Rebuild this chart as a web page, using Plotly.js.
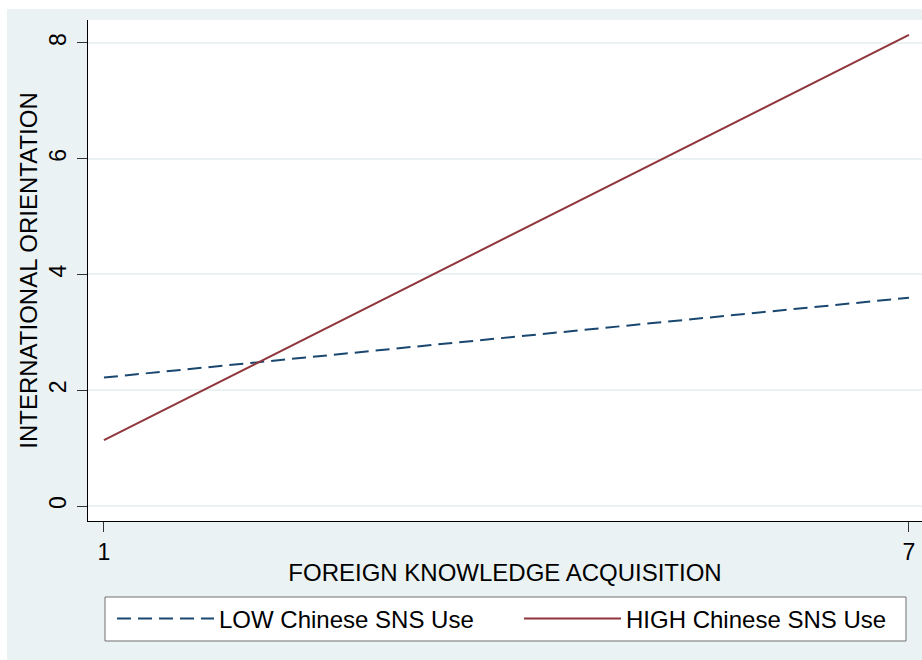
<!DOCTYPE html>
<html>
<head>
<meta charset="utf-8">
<script src="https://cdn.plot.ly/plotly-3.0.1.min.js"></script>
<style>
  html, body { margin: 0; padding: 0; background: #ffffff; }
  #chart { position: absolute; left: 7px; top: 9px; width: 915px; height: 651px; }
</style>
</head>
<body>
<div id="chart"></div>
<script>
// Data
const knowledge = [1, 7];
const lowSNS = [2.22, 3.60];
const highSNS = [1.14, 8.14];
const seriesNames = ['LOW Chinese SNS Use', 'HIGH Chinese SNS Use'];
const xTicks = [1, 7];
const yTicks = [0, 2, 4, 6, 8];

const FONT = 'Liberation Sans, Arial, Helvetica, sans-serif';

const traces = [
  {
    x: knowledge, y: lowSNS, name: seriesNames[0], type: 'scatter', mode: 'lines',
    legend: 'legend',
    line: { color: '#1a476f', width: 2, dash: '14px,7px' }
  },
  {
    x: knowledge, y: highSNS, name: seriesNames[1], type: 'scatter', mode: 'lines',
    legend: 'legend2',
    line: { color: '#90353b', width: 2 }
  }
];

const legendCommon = {
  orientation: 'h',
  xanchor: 'left', yanchor: 'middle',
  y: -0.1956,
  bgcolor: 'rgba(0,0,0,0)', borderwidth: 0,
  font: { size: 24, color: '#000000' },
  itemwidth: 97
};

const layout = {
  width: 915, height: 651,
  margin: { l: 81, r: 0, t: 11, b: 139 },
  paper_bgcolor: '#eaf2f3',
  plot_bgcolor: '#ffffff',
  font: { family: FONT, size: 24, color: '#000000' },
  showlegend: true,
  xaxis: {
    range: [0.881, 7.097],
    tickvals: xTicks, ticktext: xTicks.map(String),
    showgrid: false, zeroline: false,
    showline: true, linecolor: '#000000', linewidth: 1,
    ticks: 'outside', ticklen: 10, tickcolor: '#333333', tickwidth: 1,
    tickfont: { size: 23 },
    automargin: false,
    title: { text: 'FOREIGN KNOWLEDGE ACQUISITION', font: { size: 24 }, standoff: 0 }
  },
  yaxis: {
    range: [-0.259, 8.397],
    tickvals: yTicks, ticktext: yTicks.map(String),
    showgrid: true, gridcolor: '#eaf2f3', gridwidth: 2,
    zeroline: false,
    showline: true, linecolor: '#000000', linewidth: 1,
    ticks: 'outside', ticklen: 10, tickcolor: '#333333', tickwidth: 1,
    tickangle: -90,
    ticklabelstandoff: 2,
    tickfont: { size: 23 },
    automargin: false,
    title: { text: 'INTERNATIONAL ORIENTATION', font: { size: 24 }, standoff: 0 }
  },
  legend: Object.assign({}, legendCommon, { x: 0.0288 }),
  legend2: Object.assign({}, legendCommon, { x: 0.5168 }),
  shapes: [
    {
      type: 'rect', xref: 'paper', yref: 'paper',
      x0: 0.0204, x1: 0.9808, y0: -0.1517, y1: -0.2395,
      fillcolor: '#ffffff', line: { color: '#707070', width: 1 },
      layer: 'above'
    }
  ]
};

Plotly.newPlot('chart', traces, layout, { displayModeBar: false, responsive: false });
</script>
</body>
</html>
